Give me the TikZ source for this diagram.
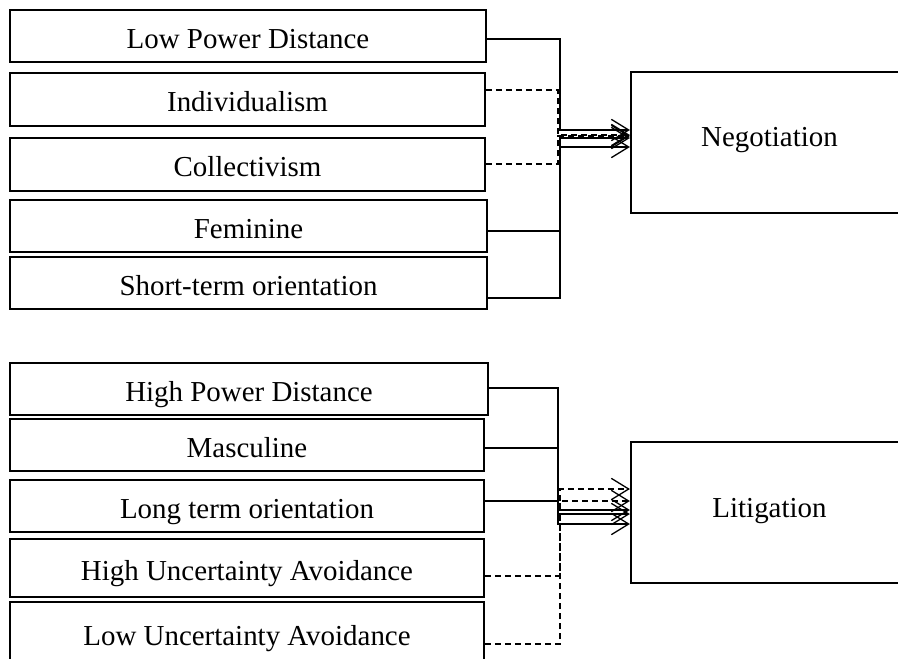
\documentclass[tikz,border=0pt]{standalone}
\usepackage{fontspec}
\setmainfont{Liberation Serif}
\usetikzlibrary{arrows.meta}
\newlength{\du}
\setlength{\du}{0.75pt}

\begin{document}
\begin{tikzpicture}
\pgftransformxscale{1.000000}
\pgftransformyscale{-1.000000}
\definecolor{dialinecolor}{rgb}{0.000000, 0.000000, 0.000000}
\tikzset{
  factor/.style={draw=dialinecolor, line width=1.800000\du, minimum width=476\du, minimum height=52\du, inner sep=0pt, text height=25\du, text depth=0pt, font=\fontsize{21.7}{26}\selectfont},
  outcome/.style={draw=dialinecolor, line width=2.200000\du, minimum width=277\du, minimum height=141\du, inner sep=0pt, text height=20\du, text depth=11\du, font=\fontsize{21.7}{26}\selectfont},
  link/.style={draw=dialinecolor, line width=1.300000\du, -{Straight Barb[length=13pt,width=16pt]}},
  dlink/.style={link, dash pattern=on 6\du off 4\du}
}
\clip (0\du,0\du) rectangle (898\du,659\du);
% setfont left to latex
\node[factor] (lpd) at (248.000000\du,36.000000\du){Low Power Distance};
\node[factor, minimum width=475\du, minimum height=53\du] (ind) at (247.500000\du,99.500000\du){Individualism};
\node[factor, minimum width=475\du, minimum height=53\du] (col) at (247.500000\du,164.500000\du){Collectivism};
\node[factor, minimum width=477\du] (fem) at (248.500000\du,226.000000\du){Feminine};
\node[factor, minimum width=477\du] (sto) at (248.500000\du,283.000000\du){Short-term orientation};
\node[outcome] (neg) at (769.500000\du,142.500000\du){Negotiation};
% setfont left to latex
\node[factor, minimum width=478\du] (hpd) at (249.000000\du,389.000000\du){High Power Distance};
\node[factor, minimum width=474\du] (mas) at (247.000000\du,445.000000\du){Masculine};
\node[factor, minimum width=474\du] (lto) at (247.000000\du,506.000000\du){Long term orientation};
\node[factor, minimum width=474\du, minimum height=58\du] (hua) at (247.000000\du,568.000000\du){High Uncertainty Avoidance};
\node[factor, minimum width=474\du, minimum height=62\du] (lua) at (247.000000\du,633.000000\du){Low Uncertainty Avoidance};
\node[outcome] (lit) at (769.500000\du,512.500000\du){Litigation};
% bends of the negotiation links
\coordinate (lpda) at (560\du,39\du);  \coordinate (lpdb) at (560\du,130\du);
\coordinate (inda) at (558\du,90\du);  \coordinate (indb) at (558\du,135\du);
\coordinate (cola) at (558\du,164\du); \coordinate (colb) at (558\du,136\du);
\coordinate (fema) at (560\du,231\du); \coordinate (femb) at (560\du,138\du);
\coordinate (stoa) at (560\du,298\du); \coordinate (stob) at (560\du,147\du);
% bends of the litigation links
\coordinate (hpda) at (558\du,388\du); \coordinate (hpdb) at (558\du,510\du);
\coordinate (masa) at (558\du,448\du); \coordinate (masb) at (558\du,514\du);
\coordinate (ltoa) at (558\du,501\du); \coordinate (ltob) at (558\du,524\du);
\coordinate (huaa) at (560\du,576\du); \coordinate (huab) at (560\du,489\du);
\coordinate (luaa) at (560\du,644\du); \coordinate (luab) at (560\du,501\du);
% negotiation links
\draw[link] (lpd.east |- lpda) -- (lpda) -- (lpdb) -- (neg.west |- lpdb);
\draw[dlink] (ind.east |- inda) -- (inda) -- (indb) -- (neg.west |- indb);
\draw[dlink] (col.east |- cola) -- (cola) -- (colb) -- (neg.west |- colb);
\draw[link] (fem.east |- fema) -- (fema) -- (femb) -- (neg.west |- femb);
\draw[link] (sto.east |- stoa) -- (stoa) -- (stob) -- (neg.west |- stob);
% litigation links
\draw[link] (hpd.east |- hpda) -- (hpda) -- (hpdb) -- (lit.west |- hpdb);
\draw[link] (mas.east |- masa) -- (masa) -- (masb) -- (lit.west |- masb);
\draw[link] (lto.east |- ltoa) -- (ltoa) -- (ltob) -- (lit.west |- ltob);
\draw[dlink] (hua.east |- huaa) -- (huaa) -- (huab) -- (lit.west |- huab);
\draw[dlink] (lua.east |- luaa) -- (luaa) -- (luab) -- (lit.west |- luab);
\end{tikzpicture}
\end{document}
